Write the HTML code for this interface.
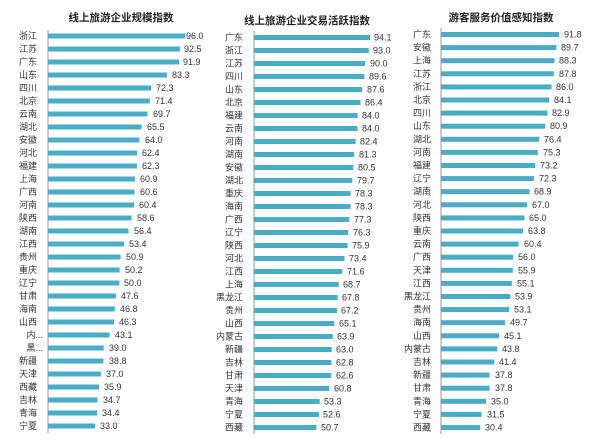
<!DOCTYPE html>
<html><head><meta charset="utf-8"><style>
html,body{margin:0;padding:0;background:#fff;}
svg{display:block;font-family:"Liberation Sans","Noto Sans CJK SC",sans-serif;}
.n{font-size:9px;fill:#333;text-anchor:end;}
.v{font-size:9px;fill:#333;}
.t{font-size:10.5px;font-weight:bold;fill:#222;text-anchor:middle;}
rect{fill:#4bacc6;}
line{stroke:#999;stroke-width:1;}
</style></head><body>
<svg width="600" height="447" viewBox="0 0 600 447">
<text class="t" x="121" y="21">线上旅游企业规模指数</text>
<text class="t" x="307" y="24">线上旅游企业交易活跃指数</text>
<text class="t" x="501" y="21">游客服务价值感知指数</text>

<g transform="translate(48,0)">
<line x1="0" y1="30" x2="0" y2="433"/>
<g transform="translate(0,36)"><rect y="-2.5" height="5" width="137"/><text class="v" x="138" y="3">96.0</text><text class="n" x="-11" y="3">浙江</text></g>
<g transform="translate(0,49)"><rect y="-2.5" height="5" width="132"/><text class="v" x="136" y="3">92.5</text><text class="n" x="-11" y="3">江苏</text></g>
<g transform="translate(0,62)"><rect y="-2.5" height="5" width="131.1"/><text class="v" x="135" y="3">91.9</text><text class="n" x="-11" y="3">广东</text></g>
<g transform="translate(0,75)"><rect y="-2.5" height="5" width="118.9"/><text class="v" x="124" y="3">83.3</text><text class="n" x="-11" y="3">山东</text></g>
<g transform="translate(0,88)"><rect y="-2.5" height="5" width="103.2"/><text class="v" x="108" y="3">72.3</text><text class="n" x="-11" y="3">四川</text></g>
<g transform="translate(0,101)"><rect y="-2.5" height="5" width="101.9"/><text class="v" x="107" y="3">71.4</text><text class="n" x="-11" y="3">北京</text></g>
<g transform="translate(0,114)"><rect y="-2.5" height="5" width="99.5"/><text class="v" x="105" y="3">69.7</text><text class="n" x="-11" y="3">云南</text></g>
<g transform="translate(0,127)"><rect y="-2.5" height="5" width="93.5"/><text class="v" x="99" y="3">65.5</text><text class="n" x="-11" y="3">湖北</text></g>
<g transform="translate(0,140)"><rect y="-2.5" height="5" width="91.3"/><text class="v" x="97" y="3">64.0</text><text class="n" x="-11" y="3">安徽</text></g>
<g transform="translate(0,153)"><rect y="-2.5" height="5" width="89"/><text class="v" x="94" y="3">62.4</text><text class="n" x="-11" y="3">河北</text></g>
<g transform="translate(0,166)"><rect y="-2.5" height="5" width="88.9"/><text class="v" x="94" y="3">62.3</text><text class="n" x="-11" y="3">福建</text></g>
<g transform="translate(0,179)"><rect y="-2.5" height="5" width="86.9"/><text class="v" x="92" y="3">60.9</text><text class="n" x="-11" y="3">上海</text></g>
<g transform="translate(0,192)"><rect y="-2.5" height="5" width="86.5"/><text class="v" x="92" y="3">60.6</text><text class="n" x="-11" y="3">广西</text></g>
<g transform="translate(0,205)"><rect y="-2.5" height="5" width="86.2"/><text class="v" x="91" y="3">60.4</text><text class="n" x="-11" y="3">河南</text></g>
<g transform="translate(0,218)"><rect y="-2.5" height="5" width="83.6"/><text class="v" x="89" y="3">58.6</text><text class="n" x="-11" y="3">陕西</text></g>
<g transform="translate(0,231)"><rect y="-2.5" height="5" width="80.5"/><text class="v" x="86" y="3">56.4</text><text class="n" x="-11" y="3">湖南</text></g>
<g transform="translate(0,244)"><rect y="-2.5" height="5" width="76.2"/><text class="v" x="81" y="3">53.4</text><text class="n" x="-11" y="3">江西</text></g>
<g transform="translate(0,257)"><rect y="-2.5" height="5" width="72.6"/><text class="v" x="78" y="3">50.9</text><text class="n" x="-11" y="3">贵州</text></g>
<g transform="translate(0,270)"><rect y="-2.5" height="5" width="71.6"/><text class="v" x="77" y="3">50.2</text><text class="n" x="-11" y="3">重庆</text></g>
<g transform="translate(0,283)"><rect y="-2.5" height="5" width="71.4"/><text class="v" x="76" y="3">50.0</text><text class="n" x="-11" y="3">辽宁</text></g>
<g transform="translate(0,296)"><rect y="-2.5" height="5" width="67.9"/><text class="v" x="73" y="3">47.6</text><text class="n" x="-11" y="3">甘肃</text></g>
<g transform="translate(0,309)"><rect y="-2.5" height="5" width="66.8"/><text class="v" x="72" y="3">46.8</text><text class="n" x="-11" y="3">海南</text></g>
<g transform="translate(0,322)"><rect y="-2.5" height="5" width="66.1"/><text class="v" x="71" y="3">46.3</text><text class="n" x="-11" y="3">山西</text></g>
<g transform="translate(0,335)"><rect y="-2.5" height="5" width="61.5"/><text class="v" x="67" y="3">43.1</text><text class="n" x="-5" y="3">内...</text></g>
<g transform="translate(0,348)"><rect y="-2.5" height="5" width="55.7"/><text class="v" x="61" y="3">39.0</text><text class="n" x="-5" y="3">黑...</text></g>
<g transform="translate(0,361)"><rect y="-2.5" height="5" width="55.4"/><text class="v" x="61" y="3">38.8</text><text class="n" x="-11" y="3">新疆</text></g>
<g transform="translate(0,374)"><rect y="-2.5" height="5" width="52.8"/><text class="v" x="58" y="3">37.0</text><text class="n" x="-11" y="3">天津</text></g>
<g transform="translate(0,387)"><rect y="-2.5" height="5" width="51.2"/><text class="v" x="56" y="3">35.9</text><text class="n" x="-11" y="3">西藏</text></g>
<g transform="translate(0,400)"><rect y="-2.5" height="5" width="49.5"/><text class="v" x="55" y="3">34.7</text><text class="n" x="-11" y="3">吉林</text></g>
<g transform="translate(0,413)"><rect y="-2.5" height="5" width="49.1"/><text class="v" x="54" y="3">34.4</text><text class="n" x="-11" y="3">青海</text></g>
<g transform="translate(0,426)"><rect y="-2.5" height="5" width="47.1"/><text class="v" x="52" y="3">33.0</text><text class="n" x="-11" y="3">宁夏</text></g>
</g>

<g transform="translate(254,0)">
<line x1="0" y1="31" x2="0" y2="434"/>
<g transform="translate(0,37.5)"><rect y="-2.5" height="5" width="116"/><text class="v" x="120" y="3">94.1</text><text class="n" x="-11" y="3">广东</text></g>
<g transform="translate(0,50.5)"><rect y="-2.5" height="5" width="114.7"/><text class="v" x="119" y="3">93.0</text><text class="n" x="-11" y="3">浙江</text></g>
<g transform="translate(0,63.5)"><rect y="-2.5" height="5" width="111"/><text class="v" x="116" y="3">90.0</text><text class="n" x="-11" y="3">江苏</text></g>
<g transform="translate(0,76.5)"><rect y="-2.5" height="5" width="110.5"/><text class="v" x="115" y="3">89.6</text><text class="n" x="-11" y="3">四川</text></g>
<g transform="translate(0,89.5)"><rect y="-2.5" height="5" width="108"/><text class="v" x="113" y="3">87.6</text><text class="n" x="-11" y="3">山东</text></g>
<g transform="translate(0,102.5)"><rect y="-2.5" height="5" width="106.5"/><text class="v" x="111" y="3">86.4</text><text class="n" x="-11" y="3">北京</text></g>
<g transform="translate(0,115.5)"><rect y="-2.5" height="5" width="103.6"/><text class="v" x="108" y="3">84.0</text><text class="n" x="-11" y="3">福建</text></g>
<g transform="translate(0,128.5)"><rect y="-2.5" height="5" width="103.6"/><text class="v" x="108" y="3">84.0</text><text class="n" x="-11" y="3">云南</text></g>
<g transform="translate(0,141.5)"><rect y="-2.5" height="5" width="101.6"/><text class="v" x="106" y="3">82.4</text><text class="n" x="-11" y="3">河南</text></g>
<g transform="translate(0,154.5)"><rect y="-2.5" height="5" width="100.2"/><text class="v" x="105" y="3">81.3</text><text class="n" x="-11" y="3">湖南</text></g>
<g transform="translate(0,167.5)"><rect y="-2.5" height="5" width="99.3"/><text class="v" x="104" y="3">80.5</text><text class="n" x="-11" y="3">安徽</text></g>
<g transform="translate(0,180.5)"><rect y="-2.5" height="5" width="98.3"/><text class="v" x="103" y="3">79.7</text><text class="n" x="-11" y="3">湖北</text></g>
<g transform="translate(0,193.5)"><rect y="-2.5" height="5" width="96.5"/><text class="v" x="101" y="3">78.3</text><text class="n" x="-11" y="3">重庆</text></g>
<g transform="translate(0,206.5)"><rect y="-2.5" height="5" width="96.5"/><text class="v" x="101" y="3">78.3</text><text class="n" x="-11" y="3">海南</text></g>
<g transform="translate(0,219.5)"><rect y="-2.5" height="5" width="95.3"/><text class="v" x="100" y="3">77.3</text><text class="n" x="-11" y="3">广西</text></g>
<g transform="translate(0,232.5)"><rect y="-2.5" height="5" width="94.1"/><text class="v" x="99" y="3">76.3</text><text class="n" x="-11" y="3">辽宁</text></g>
<g transform="translate(0,245.5)"><rect y="-2.5" height="5" width="93.6"/><text class="v" x="98" y="3">75.9</text><text class="n" x="-11" y="3">陕西</text></g>
<g transform="translate(0,258.5)"><rect y="-2.5" height="5" width="90.5"/><text class="v" x="95" y="3">73.4</text><text class="n" x="-11" y="3">河北</text></g>
<g transform="translate(0,271.5)"><rect y="-2.5" height="5" width="88.3"/><text class="v" x="93" y="3">71.6</text><text class="n" x="-11" y="3">江西</text></g>
<g transform="translate(0,284.5)"><rect y="-2.5" height="5" width="84.7"/><text class="v" x="89" y="3">68.7</text><text class="n" x="-11" y="3">上海</text></g>
<g transform="translate(0,297.5)"><rect y="-2.5" height="5" width="83.6"/><text class="v" x="88" y="3">67.8</text><text class="n" x="-11" y="3">黑龙江</text></g>
<g transform="translate(0,310.5)"><rect y="-2.5" height="5" width="82.9"/><text class="v" x="87" y="3">67.2</text><text class="n" x="-11" y="3">贵州</text></g>
<g transform="translate(0,323.5)"><rect y="-2.5" height="5" width="80.3"/><text class="v" x="85" y="3">65.1</text><text class="n" x="-11" y="3">山西</text></g>
<g transform="translate(0,336.5)"><rect y="-2.5" height="5" width="78.8"/><text class="v" x="83" y="3">63.9</text><text class="n" x="-11" y="3">内蒙古</text></g>
<g transform="translate(0,349.5)"><rect y="-2.5" height="5" width="77.7"/><text class="v" x="82" y="3">63.0</text><text class="n" x="-11" y="3">新疆</text></g>
<g transform="translate(0,362.5)"><rect y="-2.5" height="5" width="77.4"/><text class="v" x="82" y="3">62.8</text><text class="n" x="-11" y="3">吉林</text></g>
<g transform="translate(0,375.5)"><rect y="-2.5" height="5" width="77.2"/><text class="v" x="82" y="3">62.6</text><text class="n" x="-11" y="3">甘肃</text></g>
<g transform="translate(0,388.5)"><rect y="-2.5" height="5" width="75"/><text class="v" x="80" y="3">60.8</text><text class="n" x="-11" y="3">天津</text></g>
<g transform="translate(0,401.5)"><rect y="-2.5" height="5" width="65.7"/><text class="v" x="70" y="3">53.3</text><text class="n" x="-11" y="3">青海</text></g>
<g transform="translate(0,414.5)"><rect y="-2.5" height="5" width="64.9"/><text class="v" x="69" y="3">52.6</text><text class="n" x="-11" y="3">宁夏</text></g>
<g transform="translate(0,427.5)"><rect y="-2.5" height="5" width="62.5"/><text class="v" x="67" y="3">50.7</text><text class="n" x="-11" y="3">西藏</text></g>
</g>

<g transform="translate(441,0)">
<line x1="0" y1="28" x2="0" y2="434"/>
<g transform="translate(0,34.5)"><rect y="-2.5" height="5" width="118"/><text class="v" x="123" y="3">91.8</text><text class="n" x="-10" y="3">广东</text></g>
<g transform="translate(0,47.6)"><rect y="-2.5" height="5" width="115.3"/><text class="v" x="120" y="3">89.7</text><text class="n" x="-10" y="3">安徽</text></g>
<g transform="translate(0,60.7)"><rect y="-2.5" height="5" width="113.5"/><text class="v" x="118" y="3">88.3</text><text class="n" x="-10" y="3">上海</text></g>
<g transform="translate(0,73.8)"><rect y="-2.5" height="5" width="112.8"/><text class="v" x="118" y="3">87.8</text><text class="n" x="-10" y="3">江苏</text></g>
<g transform="translate(0,86.9)"><rect y="-2.5" height="5" width="110.5"/><text class="v" x="115" y="3">86.0</text><text class="n" x="-10" y="3">浙江</text></g>
<g transform="translate(0,100)"><rect y="-2.5" height="5" width="108.1"/><text class="v" x="113" y="3">84.1</text><text class="n" x="-10" y="3">北京</text></g>
<g transform="translate(0,113.1)"><rect y="-2.5" height="5" width="106.5"/><text class="v" x="111" y="3">82.9</text><text class="n" x="-10" y="3">四川</text></g>
<g transform="translate(0,126.2)"><rect y="-2.5" height="5" width="104"/><text class="v" x="109" y="3">80.9</text><text class="n" x="-10" y="3">山东</text></g>
<g transform="translate(0,139.3)"><rect y="-2.5" height="5" width="98.2"/><text class="v" x="103" y="3">76.4</text><text class="n" x="-10" y="3">湖北</text></g>
<g transform="translate(0,152.4)"><rect y="-2.5" height="5" width="96.8"/><text class="v" x="102" y="3">75.3</text><text class="n" x="-10" y="3">河南</text></g>
<g transform="translate(0,165.5)"><rect y="-2.5" height="5" width="94.1"/><text class="v" x="99" y="3">73.2</text><text class="n" x="-10" y="3">福建</text></g>
<g transform="translate(0,178.6)"><rect y="-2.5" height="5" width="92.9"/><text class="v" x="98" y="3">72.3</text><text class="n" x="-10" y="3">辽宁</text></g>
<g transform="translate(0,191.7)"><rect y="-2.5" height="5" width="88.5"/><text class="v" x="93" y="3">68.9</text><text class="n" x="-10" y="3">湖南</text></g>
<g transform="translate(0,204.8)"><rect y="-2.5" height="5" width="86.1"/><text class="v" x="91" y="3">67.0</text><text class="n" x="-10" y="3">河北</text></g>
<g transform="translate(0,217.9)"><rect y="-2.5" height="5" width="83.5"/><text class="v" x="88" y="3">65.0</text><text class="n" x="-10" y="3">陕西</text></g>
<g transform="translate(0,231)"><rect y="-2.5" height="5" width="82"/><text class="v" x="87" y="3">63.8</text><text class="n" x="-10" y="3">重庆</text></g>
<g transform="translate(0,244.1)"><rect y="-2.5" height="5" width="77.6"/><text class="v" x="83" y="3">60.4</text><text class="n" x="-10" y="3">云南</text></g>
<g transform="translate(0,257.2)"><rect y="-2.5" height="5" width="72"/><text class="v" x="77" y="3">56.0</text><text class="n" x="-10" y="3">广西</text></g>
<g transform="translate(0,270.3)"><rect y="-2.5" height="5" width="71.8"/><text class="v" x="77" y="3">55.9</text><text class="n" x="-10" y="3">天津</text></g>
<g transform="translate(0,283.4)"><rect y="-2.5" height="5" width="70.8"/><text class="v" x="76" y="3">55.1</text><text class="n" x="-10" y="3">江西</text></g>
<g transform="translate(0,296.5)"><rect y="-2.5" height="5" width="69.3"/><text class="v" x="74" y="3">53.9</text><text class="n" x="-10" y="3">黑龙江</text></g>
<g transform="translate(0,309.6)"><rect y="-2.5" height="5" width="68.2"/><text class="v" x="73" y="3">53.1</text><text class="n" x="-10" y="3">贵州</text></g>
<g transform="translate(0,322.7)"><rect y="-2.5" height="5" width="63.9"/><text class="v" x="69" y="3">49.7</text><text class="n" x="-10" y="3">海南</text></g>
<g transform="translate(0,335.8)"><rect y="-2.5" height="5" width="58"/><text class="v" x="63" y="3">45.1</text><text class="n" x="-10" y="3">山西</text></g>
<g transform="translate(0,348.9)"><rect y="-2.5" height="5" width="56.3"/><text class="v" x="61" y="3">43.8</text><text class="n" x="-10" y="3">内蒙古</text></g>
<g transform="translate(0,362)"><rect y="-2.5" height="5" width="53.2"/><text class="v" x="58" y="3">41.4</text><text class="n" x="-10" y="3">吉林</text></g>
<g transform="translate(0,375.1)"><rect y="-2.5" height="5" width="48.6"/><text class="v" x="54" y="3">37.8</text><text class="n" x="-10" y="3">新疆</text></g>
<g transform="translate(0,388.2)"><rect y="-2.5" height="5" width="48.6"/><text class="v" x="54" y="3">37.8</text><text class="n" x="-10" y="3">甘肃</text></g>
<g transform="translate(0,401.3)"><rect y="-2.5" height="5" width="45"/><text class="v" x="50" y="3">35.0</text><text class="n" x="-10" y="3">青海</text></g>
<g transform="translate(0,414.4)"><rect y="-2.5" height="5" width="40.5"/><text class="v" x="46" y="3">31.5</text><text class="n" x="-10" y="3">宁夏</text></g>
<g transform="translate(0,427.5)"><rect y="-2.5" height="5" width="39.1"/><text class="v" x="44" y="3">30.4</text><text class="n" x="-10" y="3">西藏</text></g>
</g>
</svg>
</body></html>
